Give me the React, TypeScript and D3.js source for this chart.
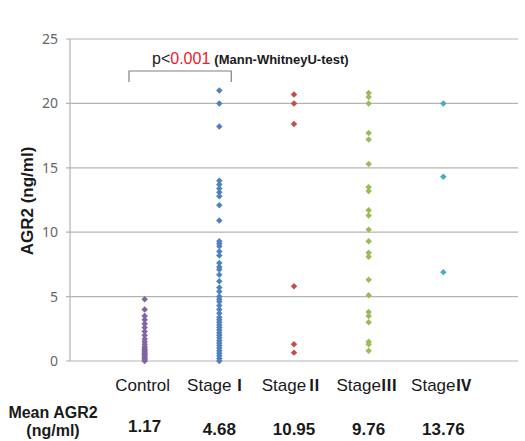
import React from 'react';
import * as d3 from 'd3';

const categories = ['Control', 'StageⅠ', 'StageⅡ', 'StageⅢ', 'StageⅣ'];
const colors = ['#8064a2', '#4f81bd', '#c0504d', '#9bbb59', '#4bacc6'];
const meanLabels = ['1.17', '4.68', '10.95', '9.76', '13.76'];
const yTicks = [0, 5, 10, 15, 20, 25];

const control = [4.8, 4.0, 3.5, 3.2, 2.9, 2.6, 2.3, 2.0, 1.7, 1.5, 1.3, 1.1, 1.0, 0.9, 0.8, 0.7, 0.6, 0.5, 0.4, 0.3, 0.2, 0.1, 0];
const stage1 = [21.0, 20.0, 18.2, 14.0, 13.7, 13.4, 13.1, 12.8, 12.1, 10.9, 9.3, 9.1, 8.9, 8.5, 8.2, 7.6, 7.3, 7.1, 6.7, 6.2, 5.7, 5.4, 5.0, 4.8, 4.6, 4.3, 4.0, 3.7, 3.4, 3.2, 3.0, 2.8, 2.6, 2.4, 2.2, 2.0, 1.8, 1.6, 1.4, 1.2, 1.0, 0.8, 0.6, 0.4, 0.2, 0];
const stage2 = [20.7, 20.0, 18.4, 5.8, 1.3, 0.65];
const stage3 = [20.8, 20.5, 20.0, 17.7, 17.2, 15.3, 13.5, 13.2, 11.7, 11.3, 10.2, 9.3, 8.4, 8.1, 6.3, 5.1, 3.8, 3.5, 3.0, 1.5, 1.3, 0.8];
const stage4 = [20.0, 14.3, 6.9];
const series = [control, stage1, stage2, stage3, stage4];

export default function App() {
  const width = 525;
  const height = 441;

  const x = d3.scaleLinear().domain([0, 6]).range([70, 518]);
  const y = d3.scaleLinear().domain([0, 25]).range([361, 39]);

  const diamond = d3.symbol().type(d3.symbolSquare).size(21)() as string;
  const font = 'Liberation Sans, Arial, sans-serif';
  const cjk = 'Noto Sans CJK JP, sans-serif';

  return (
    <svg width={width} height={height} style={{ position: 'absolute', left: 0, top: 0, background: '#fff' }}>
      {/* grid */}
      {yTicks.map(t => (
        <g key={t}>
          <line x1={66} x2={518} y1={y(t)} y2={y(t)} stroke="#b3b3b3" strokeWidth={1.2} />
          <text x={58} y={y(t) + 5} textAnchor="end" fontSize={14} fill="#666" fontFamily="Noto Sans, sans-serif">{t}</text>
        </g>
      ))}
      <line x1={70} x2={70} y1={y(25)} y2={y(0)} stroke="#b3b3b3" strokeWidth={1.2} />

      {/* points */}
      {series.map((vals, i) => (
        <g key={i} fill={colors[i]}>
          {vals.map((v, j) => (
            <path key={j} d={diamond} transform={`translate(${x(i + 1)},${y(v)}) rotate(45)`} />
          ))}
        </g>
      ))}

      {/* y title */}
      <text transform={`translate(33,${(y(0) + y(25)) / 2 + 1}) rotate(-90)`} textAnchor="middle"
        fontSize={17} fontWeight="bold" fontFamily={font} fill="#1a1a1a">AGR2 (ng/ml)</text>

      {/* significance bracket */}
      <path d={`M${x(0.79)},82V71H${x(2.16)}V82`} fill="none" stroke="#808080" strokeWidth={1.2} />
      <text x={152} y={64} fontFamily={font} fill="#1a1a1a">
        <tspan fontSize={16}>p&lt;</tspan>
        <tspan fontSize={16} fill="#e8202a">0.001</tspan>
        <tspan fontSize={13} fontWeight="bold" dx={4}>(Mann-WhitneyU-test)</tspan>
      </text>

      {/* categories */}
      {categories.map((c, i) => {
        const m = c.match(/^(.*?)([ⅠⅡⅢⅣ]*)$/) as RegExpMatchArray;
        return (
          <text key={c} x={x(i + 1) - 2} y={391} textAnchor="middle" fontSize={17} fontFamily={font} fill="#1a1a1a">
            {m[1]}
            {m[2] && <tspan fontFamily={cjk} fontSize={16} fontWeight="bold">{m[2]}</tspan>}
          </text>
        );
      })}

      {/* mean row */}
      <text x={53} y={418} textAnchor="middle" fontSize={16} fontWeight="bold" fontFamily={font} fill="#1a1a1a">Mean AGR2</text>
      <text x={53} y={436} textAnchor="middle" fontSize={16} fontWeight="bold" fontFamily={font} fill="#1a1a1a">(ng/ml)</text>
      {meanLabels.map((m, i) => (
        <text key={i} x={x(i + 1)} y={i === 0 ? 432 : 435} textAnchor="middle" fontSize={17} fontWeight="bold" fontFamily={font} fill="#1a1a1a">{m}</text>
      ))}
    </svg>
  );
}
